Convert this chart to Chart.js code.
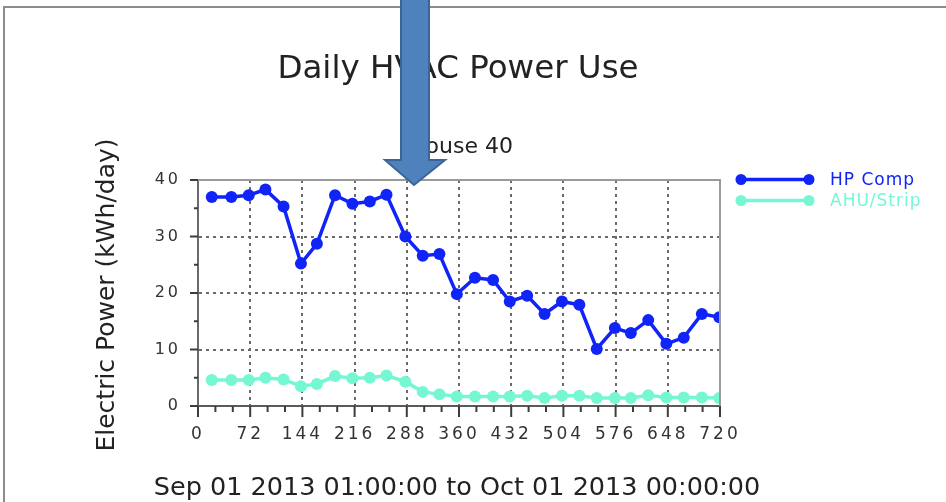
<!DOCTYPE html>
<html>
<head>
<meta charset="utf-8">
<title>Daily HVAC Power Use</title>
<script src="https://cdn.jsdelivr.net/npm/chart.js@4.4.1/dist/chart.umd.min.js"></script>
<style>
  html, body { margin: 0; padding: 0; background: #fff; }
  #wrap { position: relative; width: 946px; height: 502px; overflow: hidden; }
  #wrap canvas { position: absolute; left: 0; top: 0; }
  #frame { position: absolute; left: 3px; top: 6px; width: 960px; height: 520px;
           border-left: 2px solid #8c8c8c; border-top: 2px solid #8c8c8c; pointer-events: none; }
  #arrow { position: absolute; left: 0; top: 0; pointer-events: none; }
</style>
</head>
<body>
<div id="wrap">
  <canvas id="hvacChart" width="946" height="502"></canvas>
  <div id="frame"></div>
  <svg id="arrow" width="946" height="502">
    <polygon points="401,-4 429,-4 429,160 445,160 414,185 385,160 401,160"
             fill="#4f81bd" stroke="#3b6597" stroke-width="2"/>
  </svg>
</div>

<script>
'use strict';

// ─── Data (hours since Sep 01 01:00, kWh/day) ────────────────
const hours    = [19, 46, 70, 93, 118, 142, 164, 189, 213, 237, 260, 286, 310, 333, 357,
                  382, 407, 430, 454, 478, 502, 526, 550, 575, 597, 621, 646, 670, 695, 719];
const hpComp   = [37.0, 37.0, 37.3, 38.3, 35.3, 25.2, 28.7, 37.3, 35.8, 36.2, 37.4, 30.0, 26.6, 26.9, 19.8,
                  22.7, 22.3, 18.5, 19.5, 16.3, 18.5, 17.9, 10.1, 13.8, 12.9, 15.2, 11.0, 12.1, 16.3, 15.7];
const ahuStrip = [4.6, 4.6, 4.6, 5.0, 4.7, 3.5, 3.9, 5.3, 4.9, 5.0, 5.4, 4.3, 2.5, 2.1, 1.7,
                  1.7, 1.7, 1.7, 1.8, 1.4, 1.8, 1.8, 1.4, 1.4, 1.4, 1.9, 1.5, 1.5, 1.5, 1.4];
const seriesNames = ['HP Comp', 'AHU/Strip'];
const xTickLabels = [0, 72, 144, 216, 288, 360, 432, 504, 576, 648, 720];
const yTickLabels = [0, 10, 20, 30, 40];

const titleText    = 'Daily HVAC Power Use';
const subtitleText = 'House 40';
const yTitleText   = 'Electric Power (kWh/day)';
const xTitleText   = 'Sep 01 2013 01:00:00 to Oct 01 2013 00:00:00';

const BLUE = '#1024f8';
const AQUA = '#74f7d2';
const FONT = "'DejaVu Sans', Verdana, sans-serif";

const toPoints = vals => vals.map((v, i) => ({ x: hours[i], y: v }));

// ─── Plugin: ticks, plot frame, texts, legend ────────────────
const decorPlugin = {
  id: 'decor',
  beforeDraw(chart) {
    chart.ctx.letterSpacing = '3px';
  },
  afterDraw(chart) {
    const { ctx, chartArea: a, scales } = chart;
    ctx.save();
    ctx.letterSpacing = '0px';

    // plot frame (top + right)
    ctx.strokeStyle = '#9a9a9a';
    ctx.lineWidth = 2;
    ctx.beginPath();
    ctx.moveTo(a.left, a.top); ctx.lineTo(a.right, a.top); ctx.lineTo(a.right, a.bottom);
    ctx.stroke();

    // tick marks
    ctx.strokeStyle = '#3c3c3c';
    ctx.lineWidth = 2;
    scales.x.ticks.forEach(t => {
      const px = scales.x.getPixelForValue(t.value);
      const len = xTickLabels.includes(t.value) ? 11 : 6;
      ctx.beginPath(); ctx.moveTo(px, a.bottom); ctx.lineTo(px, a.bottom + len); ctx.stroke();
    });
    scales.y.ticks.forEach(t => {
      const py = scales.y.getPixelForValue(t.value);
      const len = yTickLabels.includes(t.value) ? 8 : 4;
      ctx.beginPath(); ctx.moveTo(a.left, py); ctx.lineTo(a.left - len, py); ctx.stroke();
    });

    // titles
    ctx.fillStyle = '#222';
    ctx.textAlign = 'center';
    ctx.textBaseline = 'alphabetic';
    ctx.font = `32.5px ${FONT}`;
    ctx.fillText(titleText, 458, 78);
    ctx.font = `22px ${FONT}`;
    ctx.fillText(subtitleText, 461, 153);
    ctx.font = `25.5px ${FONT}`;
    ctx.fillText(xTitleText, 457, 495);

    ctx.save();
    ctx.translate(107, 295);
    ctx.rotate(-Math.PI / 2);
    ctx.textBaseline = 'middle';
    ctx.font = `25px ${FONT}`;
    ctx.fillText(yTitleText, 0, 0);
    ctx.restore();

    // legend
    ctx.textAlign = 'left';
    ctx.textBaseline = 'middle';
    ctx.font = `17px ${FONT}`;
    ctx.letterSpacing = '1px';
    chart.data.datasets.forEach((ds, i) => {
      const ly = 179.5 + i * 21;
      ctx.strokeStyle = ds.borderColor;
      ctx.fillStyle = ds.borderColor;
      ctx.lineWidth = 3.5;
      ctx.beginPath(); ctx.moveTo(741, ly); ctx.lineTo(809, ly); ctx.stroke();
      [741, 809].forEach(mx => { ctx.beginPath(); ctx.arc(mx, ly, 5.5, 0, Math.PI * 2); ctx.fill(); });
      ctx.fillText(ds.label, 830, ly + 1);
    });
    ctx.restore();
  }
};

// ─── Chart ───────────────────────────────────────────────────
new Chart(document.getElementById('hvacChart'), {
  type: 'line',
  data: {
    datasets: [
      {
        label: seriesNames[0],
        data: toPoints(hpComp),
        borderColor: BLUE,
        backgroundColor: BLUE,
        borderWidth: 3.5,
        pointRadius: 6,
        pointBorderWidth: 0,
        pointBackgroundColor: BLUE,
        tension: 0,
      },
      {
        label: seriesNames[1],
        data: toPoints(ahuStrip),
        borderColor: AQUA,
        backgroundColor: AQUA,
        borderWidth: 3.5,
        pointRadius: 6,
        pointBorderWidth: 0,
        pointBackgroundColor: AQUA,
        tension: 0,
      }
    ]
  },
  options: {
    responsive: false,
    devicePixelRatio: 1,
    animation: false,
    layout: { padding: { left: 138, right: 226, top: 180, bottom: 56 } },
    plugins: {
      legend: { display: false },
      title: { display: false },
      tooltip: { enabled: false },
    },
    scales: {
      x: {
        type: 'linear',
        min: 0,
        max: 720,
        afterFit: s => { s.height = 40; },
        ticks: {
          stepSize: 24,
          autoSkip: false,
          maxRotation: 0,
          padding: 18,
          color: '#333',
          font: { family: FONT, size: 17 },
          callback: v => xTickLabels.includes(v) ? String(v) : '',
        },
        grid: {
          drawTicks: false,
          lineWidth: 2,
          color: c => (c.tick && xTickLabels.includes(c.tick.value) && c.tick.value > 0 && c.tick.value < 720) ? '#6a6a6a' : 'transparent',
        },
        border: { display: true, color: '#5a5a5a', width: 2, dash: [3, 4] },
      },
      y: {
        min: 0,
        max: 40,
        afterFit: s => { s.width = 60; },
        ticks: {
          stepSize: 5,
          padding: 17,
          color: '#333',
          font: { family: FONT, size: 16 },
          callback: v => yTickLabels.includes(v) ? String(v) : '',
        },
        grid: {
          drawTicks: false,
          lineWidth: 2,
          color: c => (c.tick && yTickLabels.includes(c.tick.value) && c.tick.value > 0 && c.tick.value < 40) ? '#6a6a6a' : 'transparent',
        },
        border: { display: true, color: '#6a6a6a', width: 2, dash: [3, 4] },
      }
    }
  },
  plugins: [decorPlugin]
});
</script>
</body>
</html>
